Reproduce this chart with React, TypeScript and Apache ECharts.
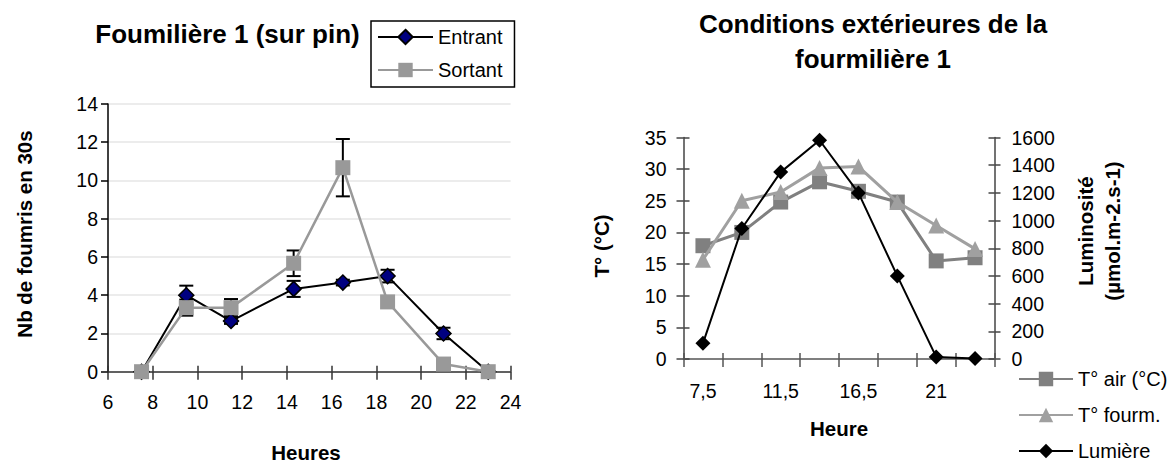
import React, { useEffect, useRef } from "react";
import * as echarts from "echarts";

// ---- Left chart data ----
const hours = [7.5, 9.5, 11.5, 14.3, 16.5, 18.5, 21, 23];
const entrant = [0, 4, 2.65, 4.33, 4.66, 5, 2, 0];
const entrantErr = [0, 0.5, 0.15, 0.42, 0.15, 0.33, 0.3, 0];
const sortant = [0, 3.35, 3.35, 5.67, 10.67, 3.65, 0.4, 0];
const sortantErr = [0, 0.42, 0.45, 0.67, 1.5, 0, 0, 0];

// ---- Right chart data ----
const categories = ["7,5", "9,5", "11,5", "14,3", "16,5", "18,5", "21", "23"];
const tAir = [17.9, 20.0, 24.8, 28.0, 26.5, 24.8, 15.5, 16.0];
const tFourm = [15.7, 25.0, 26.4, 30.2, 30.4, 24.8, 21.1, 17.4];
const lumiere = [113, 943, 1350, 1580, 1200, 600, 15, 3];

const FONT = "Liberation Sans, Arial, Helvetica, sans-serif";

export default function App() {
  const ref = useRef<HTMLDivElement>(null);

  useEffect(() => {
    if (!ref.current) return;
    const chart = echarts.init(ref.current, undefined, { renderer: "svg" });

    const errData: number[][] = [];
    hours.forEach((h, i) => {
      if (entrantErr[i] > 0) errData.push([h, entrant[i] - entrantErr[i], entrant[i] + entrantErr[i]]);
      if (sortantErr[i] > 0) errData.push([h, sortant[i] - sortantErr[i], sortant[i] + sortantErr[i]]);
    });

    const plain = (v: number) => String(v);
    const labelStyle = { fontSize: 19.5, color: "#000", fontFamily: FONT, formatter: plain };
    const txt = (text: string, x: number, y: number, size: number, bold: boolean, rot = 0, lh?: number) => ({
      type: "text",
      x,
      y,
      rotation: rot,
      silent: true,
      style: {
        text,
        fill: "#000",
        fontSize: size,
        fontWeight: bold ? "bold" : "normal",
        fontFamily: FONT,
        textAlign: "center",
        textVerticalAlign: "middle",
        align: "center",
        verticalAlign: "middle",
        lineHeight: lh,
      },
    });

    const option: any = {
      animation: false,
      backgroundColor: "#fff",
      textStyle: { fontFamily: FONT },
      grid: [
        { left: 108, top: 104, width: 402.6, height: 267.7 },
        { left: 683.5, top: 137.5, width: 311, height: 221.5 },
      ],
      xAxis: [
        {
          gridIndex: 0, type: "value", min: 6, max: 24, interval: 2, position: "bottom",
          axisLine: { show: true, lineStyle: { color: "#333", width: 1.5 } },
          axisTick: { show: true, length: 8, lineStyle: { color: "#333", width: 1.5 } },
          axisLabel: { ...labelStyle, margin: 20 },
          splitLine: { show: false },
        },
        {
          gridIndex: 0, type: "value", min: 6, max: 24, interval: 2, position: "bottom",
          axisLine: { show: false },
          axisTick: { show: true, inside: true, length: 6, lineStyle: { color: "#333", width: 1.5 } },
          axisLabel: { show: false },
          splitLine: { show: false },
        },
        {
          gridIndex: 1, type: "category", data: categories, boundaryGap: true, position: "bottom",
          axisLine: { show: true, lineStyle: { color: "#555", width: 1.5 } },
          axisTick: { show: true, interval: 0, length: 8, lineStyle: { color: "#555", width: 1.5 } },
          axisLabel: { fontSize: 19.5, color: "#000", fontFamily: FONT, interval: 1, margin: 22 },
          splitLine: { show: false },
        },
        {
          gridIndex: 1, type: "category", data: categories, boundaryGap: true, position: "bottom",
          axisLine: { show: false },
          axisTick: { show: true, inside: true, interval: 0, length: 6, lineStyle: { color: "#555", width: 1.5 } },
          axisLabel: { show: false },
          splitLine: { show: false },
        },
      ],
      yAxis: [
        {
          gridIndex: 0, type: "value", min: 0, max: 14, interval: 2, position: "left",
          axisLine: { show: true, lineStyle: { color: "#000", width: 1.5 } },
          axisTick: { show: true, length: 7, lineStyle: { color: "#000", width: 1.5 } },
          axisLabel: { ...labelStyle, margin: 10 },
          splitLine: { show: true, lineStyle: { color: "#e6e6e6", width: 1.5 } },
        },
        {
          gridIndex: 1, type: "value", min: 0, max: 35, interval: 5, position: "left",
          axisLine: { show: true, lineStyle: { color: "#444", width: 1.5 } },
          axisTick: { show: true, length: 7, lineStyle: { color: "#444", width: 1.5 } },
          axisLabel: { ...labelStyle, margin: 17 },
          splitLine: { show: false },
        },
        {
          gridIndex: 1, type: "value", min: 0, max: 35, interval: 5, position: "left",
          axisLine: { show: false },
          axisTick: { show: true, inside: true, length: 6, lineStyle: { color: "#444", width: 1.5 } },
          axisLabel: { show: false },
          splitLine: { show: false },
        },
        {
          gridIndex: 1, type: "value", min: 0, max: 1600, interval: 200, position: "right",
          axisLine: { show: true, lineStyle: { color: "#444", width: 1.5 } },
          axisTick: { show: true, length: 6, lineStyle: { color: "#444", width: 1.5 } },
          axisLabel: { ...labelStyle, margin: 17 },
          splitLine: { show: false },
        },
        {
          gridIndex: 1, type: "value", min: 0, max: 1600, interval: 200, position: "right",
          axisLine: { show: false },
          axisTick: { show: true, inside: true, length: 6, lineStyle: { color: "#444", width: 1.5 } },
          axisLabel: { show: false },
          splitLine: { show: false },
        },
      ],
      legend: [
        {
          data: ["Entrant", "Sortant"],
          orient: "vertical",
          left: 371,
          top: 21,
          padding: [6, 12, 7, 6],
          itemGap: 13,
          itemWidth: 55,
          itemHeight: 18,
          borderColor: "#000",
          borderWidth: 1.5,
          borderRadius: 0,
          selectedMode: false,
          textStyle: { fontSize: 20, color: "#000", fontFamily: FONT },
        },
        {
          data: ["T° air (°C)", "T° fourm.", "Lumière"],
          orient: "vertical",
          left: 1018,
          top: 369,
          padding: 0,
          itemGap: 16,
          itemWidth: 54,
          itemHeight: 18,
          selectedMode: false,
          textStyle: { fontSize: 20, color: "#000", fontFamily: FONT },
        },
      ],
      graphic: [
        txt("Foumilière 1 (sur pin)", 227.5, 34, 26, true),
        txt("Conditions extérieures de la\nfourmilière 1", 873, 41.5, 26, true, 0, 35),
        txt("Nb de foumris en 30s", 24, 234, 20.5, true, Math.PI / 2),
        txt("Heures", 306, 452, 20.5, true),
        txt("T° (°C)", 601.5, 246, 20.5, true, Math.PI / 2),
        txt("Heure", 839, 428, 20.5, true),
        txt("Luminosité\n(µmol.m-2.s-1)", 1098.5, 231, 20.5, true, Math.PI / 2, 27),
      ],
      series: [
        {
          name: "err",
          type: "custom",
          xAxisIndex: 0,
          yAxisIndex: 0,
          z: 1,
          silent: true,
          data: errData,
          renderItem: (params: any, api: any) => {
            const x = api.value(0);
            const pLo = api.coord([x, api.value(1)]);
            const pHi = api.coord([x, api.value(2)]);
            const hw = 7;
            const st = { stroke: "#000", lineWidth: 2 };
            return {
              type: "group",
              children: [
                { type: "line", shape: { x1: pHi[0], y1: pHi[1], x2: pLo[0], y2: pLo[1] }, style: st },
                { type: "line", shape: { x1: pHi[0] - hw, y1: pHi[1], x2: pHi[0] + hw, y2: pHi[1] }, style: st },
                { type: "line", shape: { x1: pLo[0] - hw, y1: pLo[1], x2: pLo[0] + hw, y2: pLo[1] }, style: st },
              ],
            };
          },
        },
        {
          name: "Entrant",
          type: "line",
          xAxisIndex: 0,
          yAxisIndex: 0,
          z: 3,
          data: hours.map((h, i) => [h, entrant[i]]),
          symbol: "diamond",
          symbolSize: 15,
          lineStyle: { color: "#000", width: 2 },
          itemStyle: { color: "#000080", borderColor: "#000", borderWidth: 1.5 },
        },
        {
          name: "Sortant",
          type: "line",
          xAxisIndex: 0,
          yAxisIndex: 0,
          z: 4,
          data: hours.map((h, i) => [h, sortant[i]]),
          symbol: "rect",
          symbolSize: 15,
          lineStyle: { color: "#999999", width: 2.5 },
          itemStyle: { color: "#999999" },
        },
        {
          name: "T° air (°C)",
          type: "line",
          xAxisIndex: 2,
          yAxisIndex: 1,
          z: 3,
          data: tAir,
          symbol: "rect",
          symbolSize: 15,
          lineStyle: { color: "#808080", width: 3 },
          itemStyle: { color: "#808080" },
        },
        {
          name: "T° fourm.",
          type: "line",
          xAxisIndex: 2,
          yAxisIndex: 1,
          z: 4,
          data: tFourm,
          symbol: "triangle",
          symbolSize: 16,
          lineStyle: { color: "#a0a0a0", width: 3 },
          itemStyle: { color: "#a0a0a0" },
        },
        {
          name: "Lumière",
          type: "line",
          xAxisIndex: 2,
          yAxisIndex: 3,
          z: 5,
          data: lumiere,
          symbol: "diamond",
          symbolSize: 15,
          lineStyle: { color: "#000", width: 2 },
          itemStyle: { color: "#000" },
        },
      ],
    };

    chart.setOption(option);
    return () => chart.dispose();
  }, []);

  return (
    <div
      ref={ref}
      style={{ position: "fixed", left: 0, top: 0, width: 1176, height: 464, background: "#fff" }}
    />
  );
}
